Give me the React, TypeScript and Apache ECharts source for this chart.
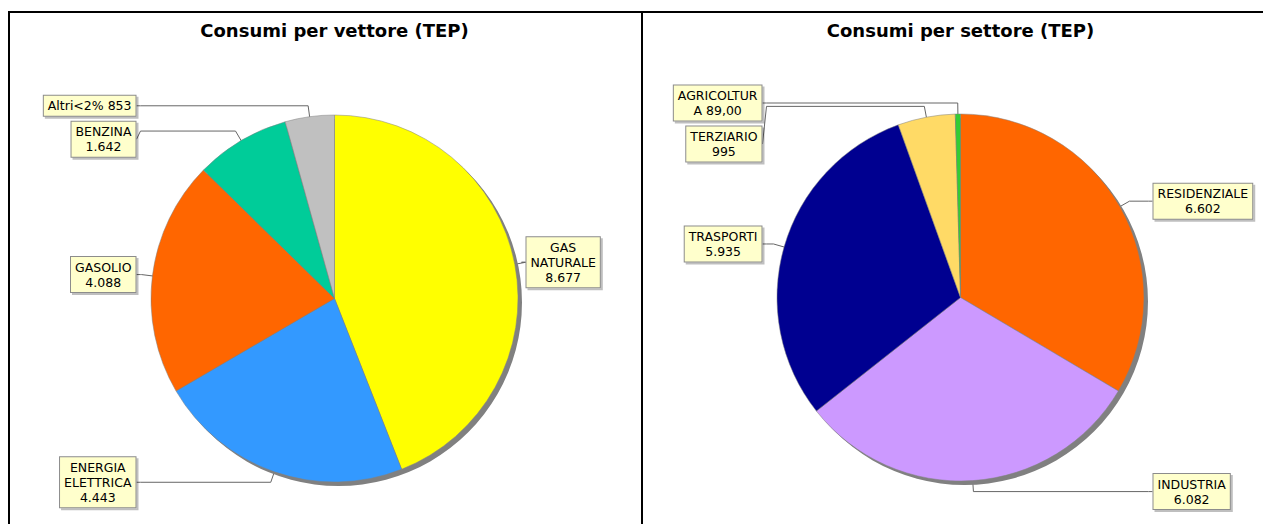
import React, { useEffect, useRef } from 'react';
import * as echarts from 'echarts';

// ---- Data ----
const vettoreTitle = 'Consumi per vettore (TEP)';
const vettoreNames = ['GAS NATURALE', 'ENERGIA ELETTRICA', 'GASOLIO', 'BENZINA', 'Altri<2%'];
const vettoreValues = [8677, 4443, 4088, 1642, 853];
const vettoreLabels = ['GAS\nNATURALE\n8.677', 'ENERGIA\nELETTRICA\n4.443', 'GASOLIO\n4.088', 'BENZINA\n1.642', 'Altri<2% 853'];
const vettoreColors = ['#FFFF00', '#3399FF', '#FF6600', '#00CC99', '#C0C0C0'];

const settoreTitle = 'Consumi per settore (TEP)';
const settoreNames = ['RESIDENZIALE', 'INDUSTRIA', 'TRASPORTI', 'TERZIARIO', 'AGRICOLTURA'];
const settoreValues = [6602, 6082, 5935, 995, 89];
const settoreLabels = ['RESIDENZIALE\n6.602', 'INDUSTRIA\n6.082', 'TRASPORTI\n5.935', 'TERZIARIO\n995', 'AGRICOLTUR\nA 89,00'];
const settoreColors = ['#FF6600', '#CC99FF', '#000090', '#FFDA66', '#33CC33'];

// ---- Layout ----
const W = 1263;
const H = 524;
const R = 183.5;
const LINE_H = 15;
const GAP = 5;

type PieCfg = {
  title: string;
  names: string[];
  values: number[];
  labels: string[];
  colors: string[];
  cx: number;
  cy: number;
  leftEdge: number;
  rightEdge: number;
};

const pies: PieCfg[] = [
  { title: vettoreTitle, names: vettoreNames, values: vettoreValues, labels: vettoreLabels, colors: vettoreColors, cx: 334.5, cy: 298.5, leftEdge: 334.5 - 198, rightEdge: 334.5 + 191 },
  { title: settoreTitle, names: settoreNames, values: settoreValues, labels: settoreLabels, colors: settoreColors, cx: 960.5, cy: 297.5, leftEdge: 960.5 - 198, rightEdge: 960.5 + 192 },
];

function computeLabels(p: PieCfg) {
  const total = p.values.reduce((a, b) => a + b, 0);
  let cum = 0;
  const items = p.values.map((v, i) => {
    const mid = ((cum + v / 2) / total) * Math.PI * 2;
    cum += v;
    const sx = Math.sin(mid);
    const sy = -Math.cos(mid);
    const lines = p.labels[i].split('\n').length;
    const h = lines * LINE_H + 6;
    const elbow = [p.cx + 1.06 * R * sx, p.cy + 1.06 * R * sy];
    return {
      i,
      left: sx < 0,
      inner: [p.cx + 0.9 * R * sx, p.cy + 0.9 * R * sy],
      elbow,
      h,
      y: elbow[1],
    };
  });
  for (const side of [true, false]) {
    const arr = items.filter((it) => it.left === side).sort((a, b) => a.y - b.y);
    for (let k = 1; k < arr.length; k++) {
      const prev = arr[k - 1];
      const cur = arr[k];
      const minY = prev.y + prev.h / 2 + GAP + cur.h / 2;
      if (cur.y < minY) cur.y = minY;
    }
  }
  return items;
}

export default function App() {
  const ref = useRef<HTMLDivElement>(null);

  useEffect(() => {
    if (!ref.current) return;
    const chart = echarts.init(ref.current, undefined, { renderer: 'svg' });

    const series: any[] = [];
    const titles: any[] = [];

    pies.forEach((p) => {
      const layout = computeLabels(p);
      titles.push({
        text: p.title,
        left: p.cx,
        top: 21,
        textAlign: 'center',
        padding: 0,
        textStyle: { fontFamily: 'DejaVu Sans', fontWeight: 'bold', fontSize: 18, color: '#000' },
      });
      // shadow
      series.push({
        type: 'pie',
        silent: true,
        center: [p.cx + 4, p.cy + 4],
        radius: R,
        label: { show: false },
        labelLine: { show: false },
        itemStyle: { color: '#808080' },
        data: [{ value: 1, name: 'shadow' }],
      });
      series.push({
        type: 'pie',
        center: [p.cx, p.cy],
        radius: R,
        startAngle: 90,
        clockwise: true,
        avoidLabelOverlap: false,
        itemStyle: { borderColor: '#808080', borderWidth: 0.5 },
        label: {
          show: true,
          position: 'outside',
          formatter: (prm: any) => p.labels[prm.dataIndex],
          fontFamily: 'DejaVu Sans',
          fontSize: 12.5,
          color: '#000',
          lineHeight: LINE_H,
          align: 'center',
          backgroundColor: '#FFFFCC',
          borderColor: '#8c8c8c',
          borderWidth: 1,
          padding: [3, 4, 2, 4],
          shadowColor: 'rgba(0,0,0,0.25)',
          shadowOffsetX: 2,
          shadowOffsetY: 2,
          shadowBlur: 0,
        },
        labelLine: { show: true, lineStyle: { color: '#666', width: 1 } },
        labelLayout: (prm: any) => {
          const it = layout[prm.dataIndex];
          const w = prm.labelRect.width;
          const edge = it.left ? p.leftEdge : p.rightEdge;
          const x = it.left ? edge - w / 2 : edge + w / 2;
          const anchorX = it.left ? edge + 4 : edge - 4;
          return {
            x,
            y: it.y,
            align: 'center',
            verticalAlign: 'middle',
            labelLinePoints: [it.inner, it.elbow, [anchorX, it.elbow[1]], [edge, it.y]],
          };
        },
        emphasis: { disabled: true },
        data: p.values.map((v, i) => ({ value: v, name: p.names[i], itemStyle: { color: p.colors[i] } })),
      });
    });

    chart.setOption({
      animation: false,
      backgroundColor: '#fff',
      title: titles,
      graphic: [
        { type: 'rect', shape: { x: 8, y: 11, width: W - 8, height: 2 }, style: { fill: '#000' } },
        { type: 'rect', shape: { x: 8, y: 11, width: 2, height: H - 11 }, style: { fill: '#000' } },
        { type: 'rect', shape: { x: 641, y: 11, width: 2, height: H - 11 }, style: { fill: '#000' } },
      ],
      series,
    });

    return () => chart.dispose();
  }, []);

  return <div ref={ref} style={{ position: 'absolute', left: 0, top: 0, width: W, height: H }} />;
}
